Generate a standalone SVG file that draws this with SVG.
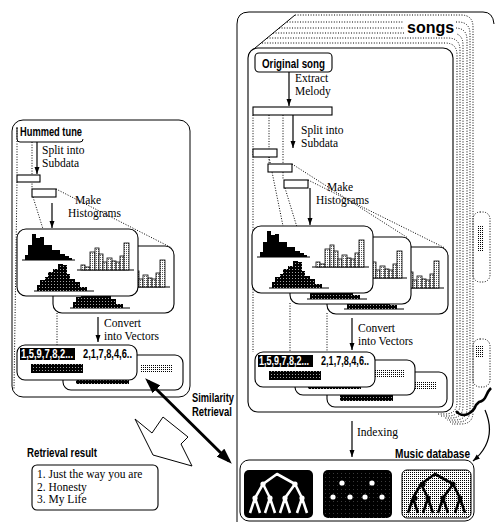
<svg xmlns="http://www.w3.org/2000/svg" width="498" height="522" viewBox="0 0 498 522">
<style>
.ln{fill:none;stroke:#000;stroke-width:1}
.dot{fill:none;stroke:#000;stroke-width:1;stroke-dasharray:1 1.6}
.card{fill:#fff;stroke:#000;stroke-width:1.1}
.serif{font-family:"Liberation Serif","Times New Roman",serif;font-size:11.5px;fill:#000}
.lbl{font-family:"Liberation Sans",Arial,sans-serif;font-weight:bold;font-size:12px;fill:#000}
.arr{fill:none;stroke:#000;stroke-width:1.2;marker-end:url(#ah)}
.bar{fill:url(#vdots);stroke:#000;stroke-width:0.8}
</style>
<defs>
<pattern id="dots" patternUnits="userSpaceOnUse" width="2" height="2"><rect width="2" height="2" fill="#fff"/><rect width="1" height="1" fill="#000"/></pattern>
<pattern id="vdots" patternUnits="userSpaceOnUse" width="2" height="2"><rect width="2" height="2" fill="#fff"/><rect x="1" width="0.8" height="0.8" fill="#000"/></pattern>
<pattern id="specks" patternUnits="userSpaceOnUse" width="3" height="3"><rect width="3" height="3" fill="#000"/><rect x="1" y="1" width="0.8" height="0.8" fill="#fff"/></pattern>
<pattern id="darkdots" patternUnits="userSpaceOnUse" width="4" height="4"><rect width="4" height="4" fill="#000"/><rect x="1" y="1" width="0.7" height="0.7" fill="#777"/></pattern>
<marker id="ah" markerUnits="userSpaceOnUse" markerWidth="7" markerHeight="6" refX="7" refY="3" orient="auto"><path d="M0,0.5 L7,3 L0,5.5 z" fill="#000"/></marker>
<marker id="big" markerUnits="userSpaceOnUse" markerWidth="16" markerHeight="11" refX="12" refY="5.5" orient="auto-start-reverse"><path d="M0,0 L16,5.5 L0,11 z" fill="#000"/></marker>
<g id="histCard">
<rect class="card" x="0" y="0" width="121" height="67" rx="9"/>
<path d="M5,31 H58 M60,41 H117 M17,62 H77" class="ln"/>
<path d="M8,31 V26 H11 V16 H15 V5 H19 V9 H23 V8 H27 V16 H31 V16 H35 V21 H39 V21 H43 V25 H48 V27 H52 V29 H55 V31 Z" fill="#000"/>
<rect class="bar" x="64" y="36" width="4" height="5"/>
<rect class="bar" x="68" y="38" width="5" height="3"/>
<rect class="bar" x="73" y="23" width="5" height="18"/>
<rect class="bar" x="78" y="19" width="4" height="22"/>
<rect class="bar" x="82" y="25" width="4" height="16"/>
<rect class="bar" x="86" y="33" width="4" height="8"/>
<rect class="bar" x="90" y="29" width="5" height="12"/>
<rect class="bar" x="95" y="32" width="4" height="9"/>
<rect class="bar" x="99" y="33" width="4" height="8"/>
<rect class="bar" x="103" y="27" width="4" height="14"/>
<rect class="bar" x="107" y="14" width="5" height="27"/>
<path d="M20,62 V56 H23 V51 H28 V48 H31 V43 H36 V40 H41 V35 H46 V36 H50 V45 H53 V50 H58 V53 H63 V58 H70 V62 Z" fill="url(#specks)"/>
</g>
<g id="vecBack">
<rect class="card" x="0" y="0" width="120" height="35" rx="8"/>
<rect x="78" y="9" width="32" height="9" fill="url(#dots)"/>
<rect x="13" y="20" width="53" height="9" fill="url(#specks)"/>
</g>
<g id="vecFront">
<rect class="card" x="0" y="0" width="120" height="35" rx="8"/>
<rect x="3" y="3" width="55" height="12" fill="#000"/>
<rect x="14" y="19" width="52" height="9" fill="url(#specks)"/>
</g>
<g id="tree" fill="none" stroke-width="2.6" stroke-linejoin="round">
<path d="M19,14 L33,4 L51,14 M11,28 L19,14 L26,28 M41,28 L51,14 L58,28 M6,43 L11,28 L16,43 M21,43 L26,28 L31,43 M36,43 L41,28 L46,43 M53,43 L58,28 L63,43"/>
</g>
</defs>

<g id="songs-stack">
<path d="M237,522 V24 Q237,12 249,12 H483 Q493,12 494,24" class="ln"/>
<path d="M249,53 L295,15" class="ln"/>
<path class="dot" d="M295,15 H461 Q473,15 473,27 V412 Q473,424 461,424 H452"/>
<path class="dot" d="M287,22 H458 Q470,22 470,34 V410 Q470,422 458,422 H450"/>
<path class="dot" d="M279,28 H455 Q467,28 467,40 V408 Q467,420 455,420 H447"/>
<path class="dot" d="M273,33 H451 Q463,33 463,45 V406 Q463,418 451,418 H444"/>
<path class="dot" d="M267,38 H448 Q460,38 460,50 V404 Q460,416 448,416 H441"/>
<path class="dot" d="M262,43 H445 Q457,43 457,55 V402 Q457,414 445,414 H438"/>
<rect class="dot" x="473" y="212" width="17" height="70" rx="7"/>
<rect x="477" y="226" width="6" height="26" fill="url(#dots)"/>
<rect class="dot" x="473" y="339" width="17" height="48" rx="7"/>
<rect x="476" y="345" width="7" height="12" fill="url(#dots)"/>
<rect x="404" y="18" width="52" height="18" fill="#fff"/>
<text x="407" y="33" font-family="'Liberation Sans',Arial,sans-serif" font-weight="bold" font-size="16">songs</text>
<path d="M456,411 Q461,417 468,414 Q474,411 476,405 L479,402 Q484,401 486,396 Q488,391 491,388" fill="none" stroke="#000" stroke-width="2.5"/>
</g>

<g id="song-page">
<rect class="card" x="248" y="48" width="205" height="364" rx="10"/>
</g>

<g id="projections">
<path class="dot" d="M17,128 V175 M17,182 L14,390 M32,142 V189 M33,197 L43,229 M56,189 L172,248 M57,313 V355"/>
<path class="dot" d="M253,115 V352 M269,115 V164 M283,115 V180 M269,157 L283,226 M285,188 L300,237 M292,164 L408,238 M308,180 L445,248 M290,303 V360 M327,313 V372"/>
</g>

<g id="hummed-panel">
<rect class="ln" x="12" y="120" width="178" height="277" rx="11"/>
</g>
<g id="hummed-tune">
<path d="M17,127 V139 Q17,142 20,142 H80 Q83,142 83,139" class="ln"/>
<text x="20" y="136" class="lbl" textLength="62" lengthAdjust="spacingAndGlyphs">Hummed tune</text>
</g>
<g id="hummed-subdata">
<rect class="card" x="17" y="175" width="23" height="7"/>
<rect class="card" x="32" y="189" width="24" height="8"/>
</g>
<g id="hummed-histograms">
<use href="#histCard" x="53" y="246"/>
<use href="#histCard" x="17" y="229"/>
</g>
<g id="hummed-vectors">
<use href="#vecBack" x="63" y="355"/>
<use href="#vecFront" x="17" y="345"/>
<text x="21" y="358" class="lbl" font-size="11" style="fill:#fff" textLength="52" lengthAdjust="spacingAndGlyphs">1,5,9,7,8,2...</text>
<text x="83" y="358" class="lbl" font-size="11" textLength="49" lengthAdjust="spacingAndGlyphs">2,1,7,8,4,6..</text>
</g>
<g id="hummed-texts">
<text x="42" y="154" class="serif">Split into</text>
<text x="42" y="167" class="serif">Subdata</text>
<text x="75" y="204" class="serif">Make</text>
<text x="68" y="217" class="serif">Histograms</text>
<text x="104" y="327" class="serif">Convert</text>
<text x="104" y="340" class="serif">into Vectors</text>
</g>

<g id="original-song">
<rect class="card" x="255" y="53" width="77" height="19" rx="4"/>
<text x="262" y="68" class="lbl" textLength="63" lengthAdjust="spacingAndGlyphs">Original song</text>
</g>
<g id="melody">
<rect class="card" x="253" y="107" width="79" height="8"/>
</g>
<g id="song-subdata">
<rect class="card" x="253" y="149" width="24" height="8"/>
<rect class="card" x="268" y="164" width="24" height="8"/>
<rect class="card" x="284" y="180" width="24" height="8"/>
</g>
<g id="song-histograms">
<use href="#histCard" x="327" y="247"/>
<use href="#histCard" x="290" y="237"/>
<use href="#histCard" x="252" y="226"/>
</g>
<g id="song-vectors">
<use href="#vecBack" x="327" y="372"/>
<use href="#vecBack" x="295" y="360"/>
<use href="#vecFront" x="255" y="352"/>
<text x="259" y="365" class="lbl" font-size="11" style="fill:#fff" textLength="50" lengthAdjust="spacingAndGlyphs">1,5,9,7,8,2...</text>
<text x="321" y="365" class="lbl" font-size="11" textLength="48" lengthAdjust="spacingAndGlyphs">2,1,7,8,4,6..</text>
</g>
<g id="song-texts">
<text x="295" y="82" class="serif">Extract</text>
<text x="295" y="95" class="serif">Melody</text>
<text x="301" y="134" class="serif">Split into</text>
<text x="301" y="147" class="serif">Subdata</text>
<text x="327" y="191" class="serif">Make</text>
<text x="316" y="204" class="serif">Histograms</text>
<text x="358" y="332" class="serif">Convert</text>
<text x="358" y="345" class="serif">into Vectors</text>
<text x="357" y="436" class="serif">Indexing</text>
</g>

<g id="music-database">
<rect class="ln" x="240" y="460" width="234" height="61" rx="9"/>
<text x="395" y="458" class="lbl" font-size="11" textLength="75" lengthAdjust="spacingAndGlyphs">Music database</text>
<rect x="244" y="470" width="69" height="48" rx="5" fill="#000"/>
<use href="#tree" x="244" y="470" stroke="#fff"/>
<g fill="#fff"><circle cx="263" cy="484" r="2.6"/><circle cx="295" cy="484" r="2.6"/><circle cx="255" cy="498" r="2.6"/><circle cx="270" cy="498" r="2.6"/><circle cx="285" cy="498" r="2.6"/><circle cx="302" cy="498" r="2.6"/></g>
<rect x="323" y="470" width="69" height="48" rx="5" fill="url(#darkdots)"/>
<g fill="#fff"><circle cx="342" cy="483" r="2.6"/><circle cx="372" cy="483" r="2.6"/><circle cx="333" cy="497" r="2.6"/><circle cx="350" cy="497" r="2.6"/><circle cx="365" cy="497" r="2.6"/><circle cx="382" cy="497" r="2.6"/></g>
<rect x="402" y="470" width="69" height="48" rx="5" fill="url(#dots)" stroke="#000" stroke-width="1"/>
<use href="#tree" x="402" y="470" stroke="#000"/>
<g fill="#000"><circle cx="423" cy="484" r="2.6"/><circle cx="453" cy="484" r="2.6"/><circle cx="415" cy="498" r="2.6"/><circle cx="428" cy="498" r="2.6"/><circle cx="443" cy="498" r="2.6"/><circle cx="460" cy="498" r="2.6"/></g>
</g>

<g id="retrieval-result">
<text x="27" y="457" class="lbl" textLength="70" lengthAdjust="spacingAndGlyphs">Retrieval result</text>
<rect class="card" x="32" y="465" width="126" height="45" rx="5"/>
<text x="37" y="478" class="serif" font-size="11">1. Just the way you are</text>
<text x="37" y="490.5" class="serif" font-size="11">2. Honesty</text>
<text x="37" y="503" class="serif" font-size="11">3. My Life</text>
</g>
<g id="result-arrow">
<polygon points="135,419 152,433 163,417 188,437 181,444 192,466 153,455 146,441" fill="#fff" stroke="#000" stroke-width="1"/>
</g>
<g id="similarity-label">
<text x="192" y="402" class="lbl" textLength="42" lengthAdjust="spacingAndGlyphs">Similarity</text>
<text x="192" y="416" class="lbl" textLength="40" lengthAdjust="spacingAndGlyphs">Retrieval</text>
</g>

<g id="connectors">
<path class="arr" d="M37,142 V174"/>
<path class="arr" d="M52,203 V228"/>
<path class="arr" d="M98,317 V342"/>
<path class="arr" d="M289,72 V106"/>
<path class="arr" d="M293,115 V148"/>
<path class="arr" d="M310,188 V225"/>
<path class="arr" d="M352,318 V350"/>
<path class="arr" d="M352,421 V457"/>
<path d="M148,381 L229,461" fill="none" stroke="#000" stroke-width="3" marker-start="url(#big)" marker-end="url(#big)"/>
<path class="arr" d="M485,410 Q498,440 473,461"/>
</g>
</svg>
